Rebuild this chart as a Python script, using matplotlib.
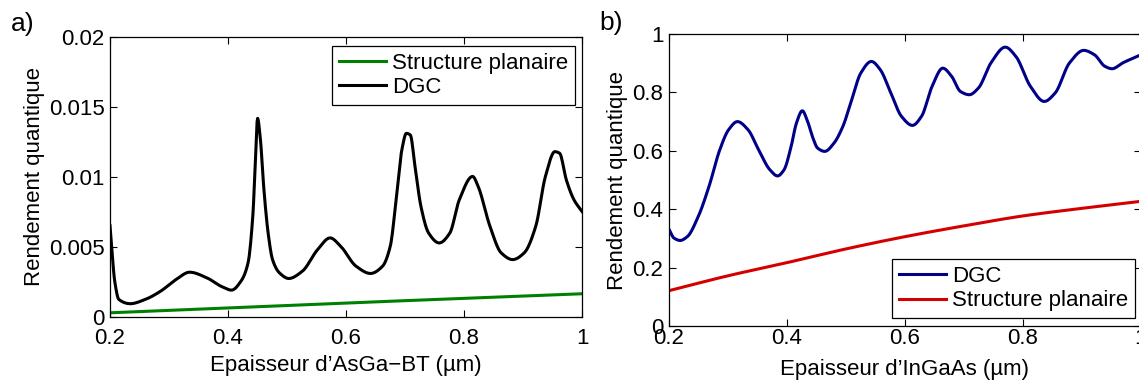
import numpy as np
import matplotlib
matplotlib.use("Agg")
import matplotlib.pyplot as plt
from matplotlib.ticker import FixedLocator, FixedFormatter

# Panel a: AsGa-BT thickness (um) vs quantum efficiency
a_x = [0.200, 0.2084, 0.2149, 0.2344, 0.260, 0.286, 0.312, 0.335, 0.364, 0.390, 0.406,
       0.422, 0.434, 0.442, 0.447, 0.450, 0.455, 0.460, 0.468, 0.4755, 0.487, 0.503,
       0.526, 0.552, 0.573, 0.591, 0.617, 0.6415, 0.662, 0.675, 0.685, 0.6946, 0.7024,
       0.709, 0.717, 0.727, 0.740, 0.758, 0.776, 0.792, 0.8146, 0.824, 0.844, 0.863,
       0.8826, 0.902, 0.9216, 0.938, 0.954, 0.962, 0.9734, 0.9864, 1.000]
a_dgc = [0.00652, 0.00244, 0.00126, 0.00095, 0.00126, 0.00185, 0.00268, 0.0032, 0.0028,
         0.00216, 0.00192, 0.00256, 0.00387, 0.00719, 0.0117, 0.0142, 0.01265, 0.00956,
         0.0060, 0.0041, 0.00316, 0.00275, 0.00327, 0.00482, 0.00565, 0.00505, 0.00363,
         0.00311, 0.00363, 0.00505, 0.00837, 0.01193, 0.01312, 0.0130, 0.01075, 0.0079,
         0.0060, 0.00529, 0.0060, 0.00837, 0.01004, 0.00932, 0.00648, 0.00458, 0.0041,
         0.00458, 0.00648, 0.01004, 0.01181, 0.0117, 0.0098, 0.00837, 0.00754]
a_plan_x = [0.2, 0.4, 0.6, 0.8, 1.0]
a_plan = [0.0003, 0.00065, 0.0010, 0.00133, 0.00166]

# Panel b: InGaAs thickness (um) vs quantum efficiency
b_x = [0.200, 0.2085, 0.219, 0.231, 0.2496, 0.2678, 0.286, 0.301, 0.316, 0.334, 0.352,
       0.371, 0.384, 0.395, 0.407, 0.416, 0.426, 0.434, 0.443, 0.452, 0.464, 0.4795,
       0.4946, 0.5097, 0.525, 0.543, 0.558, 0.576, 0.594, 0.6126, 0.628, 0.646, 0.664,
       0.679, 0.694, 0.709, 0.7245, 0.7457, 0.770, 0.788, 0.8125, 0.836, 0.8545, 0.8788,
       0.903, 0.921, 0.939, 0.951, 0.969, 1.000]
b_dgc = [0.331, 0.301, 0.293, 0.306, 0.375, 0.478, 0.603, 0.672, 0.700, 0.672, 0.603,
         0.535, 0.514, 0.535, 0.615, 0.695, 0.737, 0.706, 0.649, 0.609, 0.598, 0.626,
         0.683, 0.775, 0.866, 0.906, 0.878, 0.798, 0.718, 0.687, 0.718, 0.821, 0.883,
         0.855, 0.803, 0.792, 0.815, 0.901, 0.955, 0.923, 0.821, 0.769, 0.798, 0.901,
         0.944, 0.929, 0.889, 0.881, 0.901, 0.929]
b_plan_x = [0.2, 0.3, 0.4, 0.5, 0.6, 0.7, 0.8, 0.9, 1.0]
b_plan = [0.121, 0.172, 0.217, 0.264, 0.306, 0.343, 0.377, 0.403, 0.427]

x_ticks = [0.2, 0.4, 0.6, 0.8, 1.0]
x_labels = ["0.2", "0.4", "0.6", "0.8", "1"]
a_yticks = [0, 0.005, 0.01, 0.015, 0.02]
a_ylabels = ["0", "0.005", "0.01", "0.015", "0.02"]
b_yticks = [0, 0.2, 0.4, 0.6, 0.8, 1.0]
b_ylabels = ["0", "0.2", "0.4", "0.6", "0.8", "1"]


def smooth(xs, ys, n=800):
    # monotone cubic (PCHIP-like) interpolation through the read points
    xs = np.asarray(xs, float)
    ys = np.asarray(ys, float)
    h = np.diff(xs)
    d = np.diff(ys) / h
    m = np.zeros_like(ys)
    for k in range(1, len(xs) - 1):
        if d[k - 1] * d[k] > 0:
            w1 = 2 * h[k] + h[k - 1]
            w2 = h[k] + 2 * h[k - 1]
            m[k] = (w1 + w2) / (w1 / d[k - 1] + w2 / d[k])
    m[0] = d[0]
    m[-1] = d[-1]
    xx = np.linspace(xs[0], xs[-1], n)
    idx = np.clip(np.searchsorted(xs, xx) - 1, 0, len(xs) - 2)
    t = (xx - xs[idx]) / h[idx]
    h00 = 2 * t**3 - 3 * t**2 + 1
    h10 = t**3 - 2 * t**2 + t
    h01 = -2 * t**3 + 3 * t**2
    h11 = t**3 - t**2
    yy = h00 * ys[idx] + h10 * h[idx] * m[idx] + h01 * ys[idx + 1] + h11 * h[idx] * m[idx + 1]
    return xx, yy


plt.rcParams['font.family'] = ['Liberation Sans', 'DejaVu Sans']
fs = 16

fig = plt.figure(figsize=(11.39, 3.80), dpi=100)
W, H = 1139.0, 380.0
ax1 = fig.add_axes([110 / W, (H - 317) / H, 472 / W, 280 / H])
ax2 = fig.add_axes([669 / W, (H - 326) / H, 472 / W, 292 / H])

lw = 2.2
ax1.plot(*smooth(a_plan_x, a_plan), color='#008000', lw=lw, label='Structure planaire')
ax1.plot(*smooth(a_x, a_dgc), color='black', lw=lw, label='DGC')
ax2.plot(*smooth(b_x, b_dgc), color='#000088', lw=lw, label='DGC')
ax2.plot(*smooth(b_plan_x, b_plan), color='#d40000', lw=lw, label='Structure planaire')

ax1.set_xlim(0.2, 1.0)
ax1.set_ylim(0, 0.02)
ax2.set_xlim(0.2, 1.0)
ax2.set_ylim(0, 1.0)

for ax, yt, yl in [(ax1, a_yticks, a_ylabels), (ax2, b_yticks, b_ylabels)]:
    ax.xaxis.set_major_locator(FixedLocator(x_ticks))
    ax.xaxis.set_major_formatter(FixedFormatter(x_labels))
    ax.yaxis.set_major_locator(FixedLocator(yt))
    ax.yaxis.set_major_formatter(FixedFormatter(yl))
    ax.tick_params(direction='in', top=True, right=True, length=5, width=0.8,
                   labelsize=fs, pad=4)
    for s in ax.spines.values():
        s.set_linewidth(0.9)
    ax.set_ylabel('Rendement quantique', fontsize=fs, labelpad=3)

ax1.tick_params(axis='x', pad=8)
ax2.tick_params(axis='x', pad=1.5)
ax1.set_xlabel('Epaisseur d\u2019AsGa\u2212BT (\u00b5m)', fontsize=fs, labelpad=4.5)
ax2.set_xlabel('Epaisseur d\u2019InGaAs (\u00b5m)', fontsize=fs, labelpad=7.5)

leg_kw = dict(fontsize=fs, frameon=True, fancybox=False, framealpha=1, edgecolor='black',
              handlelength=2.1, handletextpad=0.3, labelspacing=0.15, borderpad=0.3,
              borderaxespad=0)
l1 = ax1.legend(loc='upper right', bbox_to_anchor=(1 - 7 / 472, 1 - 9 / 280), **leg_kw)
l2 = ax2.legend(loc='lower right', bbox_to_anchor=(1 - 6 / 472, 8 / 292), **leg_kw)
for l in (l1, l2):
    l.get_frame().set_linewidth(0.9)

fig.text(11 / W, 1 - 24 / H, 'a)', fontsize=19, va='center', ha='left')
fig.text(599 / W, 1 - 23 / H, 'b)', fontsize=19, va='center', ha='left')

fig.savefig('out.png', dpi=100)
